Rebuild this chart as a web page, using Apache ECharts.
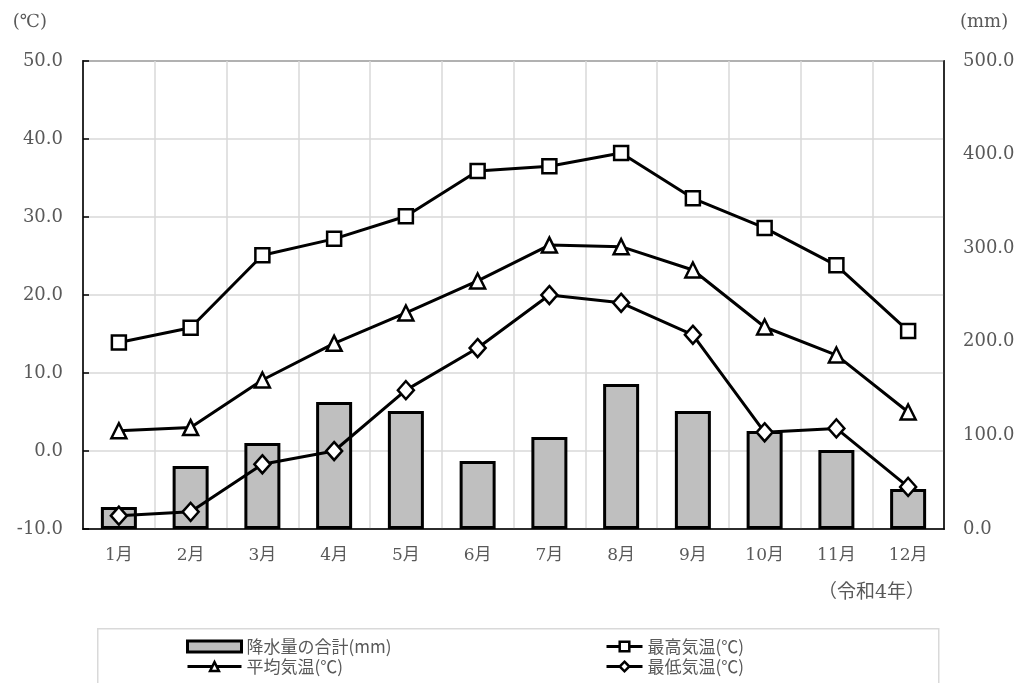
<!DOCTYPE html>
<html>
<head>
<meta charset="utf-8">
<script src="https://cdn.jsdelivr.net/npm/echarts@6/dist/echarts.min.js"></script>
<style>
  html, body { margin: 0; padding: 0; background: #fff; }
  #chart { width: 1021px; height: 683px; }
</style>
</head>
<body>
<div id="chart"></div>
<script>
// 月別の気象データ(令和4年)
const months = ['1月', '2月', '3月', '4月', '5月', '6月', '7月', '8月', '9月', '10月', '11月', '12月'];
const precipitation = [23.5, 67.3, 91.9, 135.7, 126.1, 72.6, 98.3, 154.9, 126.1, 104.7, 84.4, 42.7];
const maxTemp = [13.9, 15.8, 25.1, 27.2, 30.1, 35.9, 36.5, 38.2, 32.4, 28.6, 23.8, 15.4];
const avgTemp = [2.6, 3.0, 9.1, 13.8, 17.7, 21.8, 26.4, 26.2, 23.2, 15.9, 12.3, 5.0];
const minTemp = [-8.3, -7.8, -1.7, 0.0, 7.8, 13.2, 20.0, 19.0, 14.9, 2.4, 2.9, -4.6];

const names = ['降水量の合計(mm)', '最高気温(℃)', '平均気温(℃)', '最低気温(℃)'];

const FONT = "'DejaVu Serif', 'Liberation Serif', 'Noto Sans CJK JP', serif";
const LABEL_COLOR = '#595959';
const LABEL_SIZE = 18;

const lineSeries = (name, data, symbol, size) => ({
  name, type: 'line', yAxisIndex: 0, data,
  symbol, symbolSize: size,
  lineStyle: { color: '#000', width: 3 },
  itemStyle: { color: '#fff', borderColor: '#000', borderWidth: 2.5 },
  z: 5
});

const legendText = { fontFamily: "'Noto Sans CJK JP', sans-serif", fontSize: 17, color: LABEL_COLOR };

const chart = echarts.init(document.getElementById('chart'));
chart.setOption({
  animation: false,
  backgroundColor: '#fff',
  grid: { left: 83, right: 77, top: 61, bottom: 154, show: true, borderColor: '#000', borderWidth: 1.5 },
  xAxis: {
    type: 'category',
    data: months,
    axisLine: { onZero: false, lineStyle: { color: '#000', width: 1.5 } },
    axisTick: { show: false },
    axisLabel: { fontFamily: FONT, fontSize: 17, color: LABEL_COLOR, margin: 18 },
    splitLine: { show: true, lineStyle: { color: '#d9d9d9', width: 1.5 } }
  },
  yAxis: [
    {
      type: 'value', min: -10, max: 50, interval: 10,
      name: '(℃)', nameLocation: 'end', nameGap: 30,
      nameTextStyle: { fontFamily: FONT, fontSize: LABEL_SIZE, color: LABEL_COLOR, align: 'right', padding: [0, 36, 0, 0] },
      axisLine: { show: true, lineStyle: { color: '#000', width: 1.5 } },
      axisTick: { show: true, inside: true, length: 6, lineStyle: { color: '#000', width: 1.5 } },
      axisLabel: { fontFamily: FONT, fontSize: LABEL_SIZE, color: LABEL_COLOR, margin: 20, formatter: v => v.toFixed(1) },
      splitLine: { show: true, lineStyle: { color: '#d9d9d9', width: 1.5 } }
    },
    {
      type: 'value', min: 0, max: 500, interval: 100,
      name: '(mm)', nameLocation: 'end', nameGap: 30,
      nameTextStyle: { fontFamily: FONT, fontSize: LABEL_SIZE, color: LABEL_COLOR, align: 'left', padding: [0, 0, 0, 16] },
      axisLine: { show: true, lineStyle: { color: '#000', width: 1.5 } },
      axisTick: { show: false },
      axisLabel: { fontFamily: FONT, fontSize: LABEL_SIZE, color: LABEL_COLOR, margin: 19, formatter: v => v.toFixed(1) },
      splitLine: { show: false }
    }
  ],
  legend: [
    {
      data: [
        { name: names[0], icon: 'rect', itemStyle: { color: '#bfbfbf', borderColor: '#000', borderWidth: 3 } },
        { name: names[2] }
      ],
      orient: 'vertical', left: 186, top: 638, height: 60, itemGap: 3, padding: 0,
      itemWidth: 54, itemHeight: 11, lineStyle: { width: 3 }, itemStyle: { borderWidth: 2.5 },
      textStyle: legendText, selectedMode: false
    },
    {
      data: [{ name: names[1] }, { name: names[3] }],
      orient: 'vertical', left: 605, top: 638, height: 60, itemGap: 3, padding: 0,
      itemWidth: 36, itemHeight: 12, lineStyle: { width: 3 }, itemStyle: { borderWidth: 2.5 },
      textStyle: legendText, selectedMode: false
    }
  ],
  graphic: [
    {
      type: 'rect', left: 97, top: 628, z: -1,
      shape: { width: 841, height: 70 },
      style: { fill: '#fff', stroke: '#d9d9d9', lineWidth: 1.5 }
    },
    {
      type: 'text', left: 818, top: 584,
      style: { text: '（令和4年）', font: "19px " + FONT, fill: LABEL_COLOR }
    }
  ],
  series: [
    {
      name: names[0], type: 'bar', yAxisIndex: 1, data: precipitation,
      barWidth: 36,
      itemStyle: { color: '#bfbfbf', borderColor: '#000', borderWidth: 3 },
      z: 2
    },
    lineSeries(names[1], maxTemp, 'rect', 14),
    lineSeries(names[2], avgTemp, 'triangle', 15),
    lineSeries(names[3], minTemp, 'diamond', [16, 18])
  ]
});
</script>
</body>
</html>
